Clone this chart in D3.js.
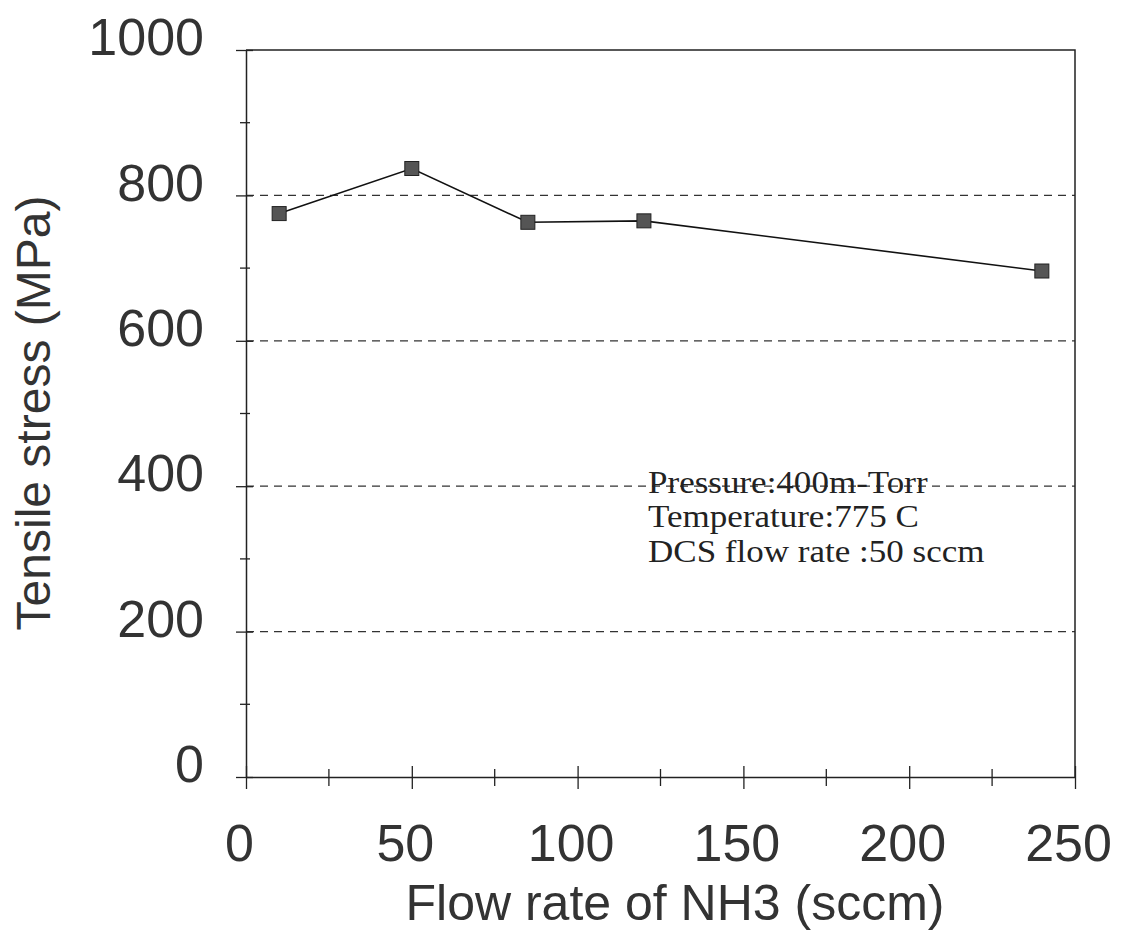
<!DOCTYPE html>
<html>
<head>
<meta charset="utf-8">
<script src="https://cdn.jsdelivr.net/npm/d3@7"></script>
<style>
  body { margin: 0; background: #fff; }
  svg { display: block; }
</style>
</head>
<body>
<div id="chart"></div>
<script>
// values
const flowRate = [10, 50, 85, 120, 240];
const stress = [775, 837, 763, 765, 696];
const xTicks = [0, 50, 100, 150, 200, 250];
const xMinor = [25, 75, 125, 175, 225];
const yTicks = [0, 200, 400, 600, 800, 1000];
const yMinor = [100, 300, 500, 700, 900];
const gridValues = [200, 400, 600, 800];
const noteLines = ["Pressure:400m-Torr", "Temperature:775 C", "DCS flow rate :50 sccm"];

const width = 1123, height = 932;
const svg = d3.select("#chart").append("svg")
  .attr("width", width)
  .attr("height", height);

const x = d3.scaleLinear().domain([0, 250]).range([246, 1075]);
const y = d3.scaleLinear().domain([0, 1000]).range([777, 50]);

const sans = "'Liberation Sans', Arial, sans-serif";

// dashed gridlines
svg.append("g")
  .selectAll("line")
  .data(gridValues)
  .join("line")
  .attr("x1", x(0))
  .attr("x2", x(250))
  .attr("y1", d => y(d))
  .attr("y2", d => y(d))
  .attr("stroke", "#333")
  .attr("stroke-width", 1.2)
  .attr("stroke-dasharray", "8,6");

// frame (top + right)
svg.append("path")
  .attr("d", `M${x(0)},${y(1000)}H${x(250)}V${y(0)}`)
  .attr("fill", "none")
  .attr("stroke", "#222")
  .attr("stroke-width", 1.5);

// y axis
const yAxis = svg.append("g")
  .attr("transform", `translate(${x(0)},0)`)
  .call(d3.axisLeft(y).tickValues(yTicks).tickFormat(d3.format("d")).tickSize(0).tickPadding(42));
yAxis.select(".domain").attr("stroke", "#222").attr("stroke-width", 1.5);
yAxis.selectAll("text")
  .attr("transform", "translate(0,-12)")
  .style("font-family", sans)
  .style("font-size", "52px")
  .attr("fill", "#333");
yAxis.selectAll(".tick")
  .append("line")
  .attr("x1", -10).attr("x2", 7)
  .attr("stroke", "#222").attr("stroke-width", 1.3);
svg.append("g")
  .selectAll("line")
  .data(yMinor)
  .join("line")
  .attr("x1", x(0) - 6).attr("x2", x(0) + 4)
  .attr("y1", d => y(d)).attr("y2", d => y(d))
  .attr("stroke", "#222").attr("stroke-width", 1.3);

// x axis
const xAxis = svg.append("g")
  .attr("transform", `translate(0,${y(0)})`)
  .call(d3.axisBottom(x).tickValues(xTicks).tickFormat(d3.format("d")).tickSize(0).tickPadding(47));
xAxis.select(".domain").attr("stroke", "#222").attr("stroke-width", 1.5);
xAxis.selectAll("text")
  .attr("transform", "translate(-7,0)")
  .style("font-family", sans)
  .style("font-size", "52px")
  .attr("fill", "#333");
xAxis.selectAll(".tick")
  .append("line")
  .attr("y1", -11).attr("y2", 12)
  .attr("stroke", "#222").attr("stroke-width", 1.3);
svg.append("g")
  .selectAll("line")
  .data(xMinor)
  .join("line")
  .attr("x1", d => x(d)).attr("x2", d => x(d))
  .attr("y1", y(0) - 8).attr("y2", y(0) + 9)
  .attr("stroke", "#222").attr("stroke-width", 1.3);

// axis titles
svg.append("text")
  .attr("transform", "translate(50,413) rotate(-90)")
  .attr("text-anchor", "middle")
  .style("font-family", sans)
  .style("font-size", "48px")
  .attr("fill", "#333")
  .text("Tensile stress (MPa)");

svg.append("text")
  .attr("x", 675)
  .attr("y", 920)
  .attr("text-anchor", "middle")
  .style("font-family", sans)
  .style("font-size", "50px")
  .attr("fill", "#333")
  .text("Flow rate of NH3 (sccm)");

// data line + markers
const pts = flowRate.map((f, i) => [f, stress[i]]);
svg.append("path")
  .datum(pts)
  .attr("fill", "none")
  .attr("stroke", "#111")
  .attr("stroke-width", 1.6)
  .attr("d", d3.line().x(d => x(d[0])).y(d => y(d[1])));

svg.append("g")
  .selectAll("rect")
  .data(pts)
  .join("rect")
  .attr("x", d => x(d[0]) - 7)
  .attr("y", d => y(d[1]) - 7)
  .attr("width", 14)
  .attr("height", 14)
  .attr("fill", "#555")
  .attr("stroke", "#222")
  .attr("stroke-width", 1);

// annotation, one text per line, slightly widened like the scanned serif
const note = svg.append("g")
  .attr("transform", "translate(648,493) scale(1.13,1)");
note.selectAll("text")
  .data(noteLines)
  .join("text")
  .attr("x", 0)
  .attr("y", (d, i) => i * 34.5)
  .style("font-family", "'Liberation Serif', 'Times New Roman', serif")
  .style("font-size", "31px")
  .attr("fill", "#222")
  .text(d => d);
</script>
</body>
</html>
